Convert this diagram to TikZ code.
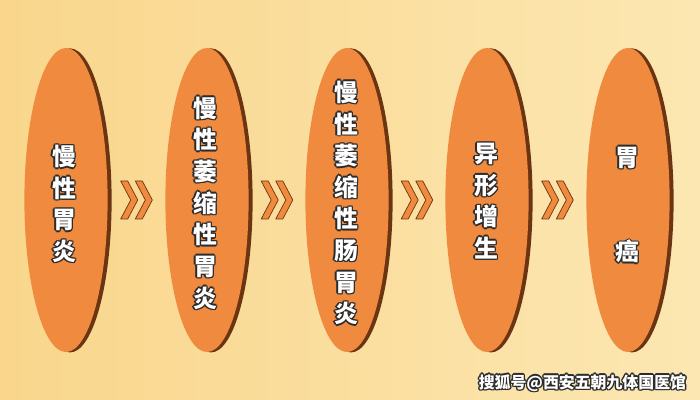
\documentclass[tikz,border=0pt]{standalone}
\usepackage{fontspec}
\usepackage{tikz}
\usetikzlibrary{shapes.geometric,shadows,calc}
\newfontfamily\cjk{Noto Sans CJK SC}

\definecolor{bgleft}{HTML}{F9D68C}
\definecolor{bgright}{HTML}{FCE7B2}
\definecolor{pill}{HTML}{F08A3E}
\definecolor{pillshadow}{HTML}{6B3412}
\definecolor{inkline}{HTML}{2B2B2B}

% white glyph with dark rim
\newcommand{\oc}[1]{\leavevmode\rlap{\color{inkline}%
  \rlap{\kern1pt#1}\rlap{\kern-1pt#1}\rlap{\raisebox{1pt}{#1}}\rlap{\raisebox{-1pt}{#1}}%
  \rlap{\kern.7pt\raisebox{.7pt}{#1}}\rlap{\kern-.7pt\raisebox{.7pt}{#1}}%
  \rlap{\kern.7pt\raisebox{-.7pt}{#1}}\rlap{\kern-.7pt\raisebox{-.7pt}{#1}}}%
  \textcolor{white}{#1}}

\tikzset{
  pill/.style={ellipse, fill=pill, minimum width=2.08cm, minimum height=7.6cm, inner sep=0pt,
    general shadow={fill=pillshadow, shadow xshift=0.1cm, shadow yshift=-0.01cm}},
  vtext/.style={align=center, inner sep=0pt, font=\cjk\bfseries\fontsize{17}{22.5}\selectfont},
  chev/.style={fill=pill, draw=pillshadow, line width=0.5pt, line join=round}
}

\begin{document}
\begin{tikzpicture}[x=0.025cm, y=-0.025cm]
	  % Background
	  \shade[left color=bgleft, right color=bgright] (0,0) rectangle (700,400);
	  \useasboundingbox (0,0) rectangle (700,400);

	  % Nodes
	  \node[pill] (e1) at (66,200) {};
	  \node[pill] (e2) at (207,200) {};
	  \node[pill] (e3) at (347,200) {};
	  \node[pill] (e4) at (487,200) {};
	  \node[pill] (e5) at (628,200) {};

	  % Texts
	  \node[vtext] (t1) at ($(e1)+(-2,4)$) {\oc{慢}\\\oc{性}\\\oc{胃}\\\oc{炎}};
	  \node[vtext] (t2) at ($(e2)+(-2,3)$) {\oc{慢}\\\oc{性}\\\oc{萎}\\\oc{缩}\\\oc{性}\\\oc{胃}\\\oc{炎}};
	  \node[vtext] (t3) at ($(e3)+(-1,3)$) {\oc{慢}\\\oc{性}\\\oc{萎}\\\oc{缩}\\\oc{性}\\\oc{肠}\\\oc{胃}\\\oc{炎}};
	  \node[vtext] (t4) at ($(e4)+(-1,1)$) {\oc{异}\\\oc{形}\\\oc{增}\\\oc{生}};
	  \node[vtext] (t5) at ($(e5)+(-1,5)$) {\oc{胃}\\[2\baselineskip]\oc{癌}};

	  % Arrows
	  \foreach \a/\b in {e1/e2, e2/e3, e3/e4, e4/e5} {
	    \coordinate (m\a) at ($(\a)!0.5!(\b)$);
	    \foreach \dx in {-15.8, -1.2}
	      \draw[chev, shift={(m\a)}] (\dx,-19) -- ++(7,0) -- ++(10,19) -- ++(-10,19) -- ++(-7,0) -- ++(10,-19) -- cycle;
	  }

	  % Watermark
	  \node[anchor=east, font=\cjk\bfseries\fontsize{11.3}{13}\selectfont] (mark) at (691,383) {\oc{搜狐号@西安五朝九体国医馆}};
	\end{tikzpicture}
\end{document}
